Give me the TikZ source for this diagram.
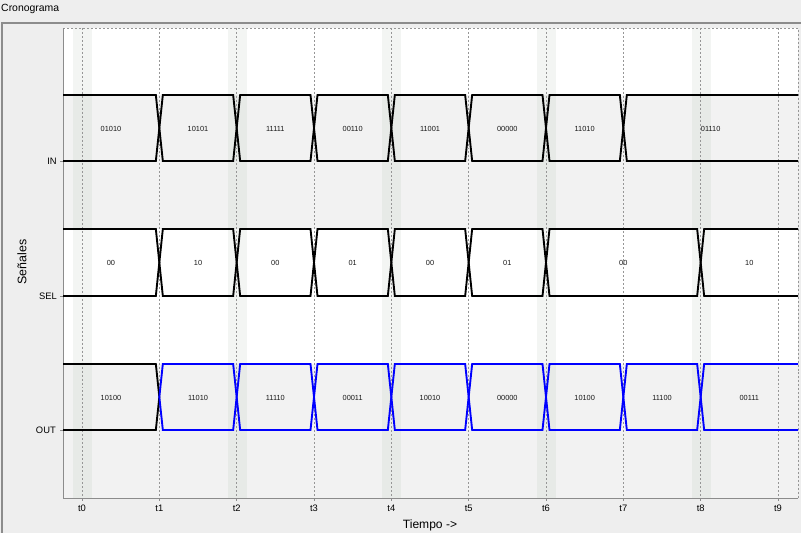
\documentclass[tikz,border=0pt]{standalone}
\usepackage{fontspec}
\setmainfont{Liberation Sans}
\usetikzlibrary{positioning}
\definecolor{PanelGray}{RGB}{238,238,238}
\definecolor{BandGray}{RGB}{242,242,242}
\definecolor{StripeTint}{RGB}{110,140,110}
\definecolor{GridGray}{RGB}{150,150,150}
\definecolor{FrameGray}{RGB}{140,140,140}
\definecolor{BusBlue}{RGB}{0,0,255}

\begin{document}
\begin{tikzpicture}[x=0.03cm,y=-0.03cm,
  declare function={tx(\i)=82+77.333*\i;},
  busline/.style={line width=1.6pt,line join=miter},
  gridline/.style={GridGray,line width=0.5pt,dash pattern=on 1.7pt off 1.7pt},
  val/.style={font=\fontsize{6.3}{7}\selectfont,text=black!90},
  signame/.style={font=\fontsize{8}{9}\selectfont,anchor=east,inner sep=0pt},
  ticklab/.style={font=\fontsize{8}{9}\selectfont,inner sep=0pt}]
\useasboundingbox (0,0) rectangle (801,533);
\fill[PanelGray] (0,0) rectangle (801,533);
\draw[FrameGray,line width=1pt] (2,533) -- (2,23) -- (801,23);
\node[anchor=west,inner sep=0pt,font=\fontsize{8.9}{10}\selectfont] (title) at (1,9) {Cronograma};
% bandas de fondo
\fill[white] (63,28) rectangle (798,95);
\fill[BandGray] (63,95) rectangle (798,229);
\fill[white] (63,229) rectangle (798,364);
\fill[BandGray] (63,364) rectangle (798,498);
\foreach \i in {0,2,4,6,8}
  \fill[StripeTint,fill opacity=0.08] ({tx(\i)-9},28) rectangle ({tx(\i)+10},498);
% rejilla y eje de tiempo
\foreach \i in {0,...,9} {
  \draw[gridline] ({tx(\i)},28) -- ({tx(\i)},498);
  \draw[FrameGray] ({tx(\i)},498) -- ({tx(\i)},501);
  \node[ticklab] (t\i) at ({tx(\i)},508.5) {t\i};
}
\draw[gridline] (63,28) -- (798,28) -- (798,498);
\draw[FrameGray] (63,28) -- (63,498) -- (798,498);
\node[font=\fontsize{10.3}{12}\selectfont,inner sep=0pt] (tiempo) at (430,525) {Tiempo ->};
\node[rotate=90,font=\fontsize{10.6}{12}\selectfont,inner sep=0pt] (senales) at (22,262) {Señales};
% nombres de las señales
\node[signame] (in) at (57,161) {IN};
\node[signame] (sel) at (57,296) {SEL};
\node[signame] (out) at (56,430) {OUT};
\foreach \y in {161,296,430}
  \draw[FrameGray] (60,\y) -- (63,\y);
% IN
\draw[busline] (63,95) -- ({tx(1)-3.5},95) -- ({tx(1)},128) -- ({tx(1)-3.5},161) -- (63,161);
\node[val] (in0) at (111,129) {01010};
\foreach \a/\b/\v in {1/2/10101,2/3/11111,3/4/00110,4/5/11001,5/6/00000,6/7/11010} {
  \draw[busline] ({tx(\a)+3.5},95) -- ({tx(\b)-3.5},95) -- ({tx(\b)},128) -- ({tx(\b)-3.5},161)
    -- ({tx(\a)+3.5},161) -- ({tx(\a)},128) -- cycle;
  \node[val] (in\a) at ({(tx(\a)+tx(\b))/2},129) {\v};
}
\draw[busline] (798,95) -- ({tx(7)+3.5},95) -- ({tx(7)},128) -- ({tx(7)+3.5},161) -- (798,161);
\node[val] (in7) at ({(tx(7)+798)/2},129) {01110};
% SEL
\draw[busline] (63,229) -- ({tx(1)-3.5},229) -- ({tx(1)},262.5) -- ({tx(1)-3.5},296) -- (63,296);
\node[val] (sel0) at (111,263) {00};
\foreach \a/\b/\v in {1/2/10,2/3/00,3/4/01,4/5/00,5/6/01,6/8/00} {
  \draw[busline] ({tx(\a)+3.5},229) -- ({tx(\b)-3.5},229) -- ({tx(\b)},262.5) -- ({tx(\b)-3.5},296)
    -- ({tx(\a)+3.5},296) -- ({tx(\a)},262.5) -- cycle;
  \node[val] (sel\a) at ({(tx(\a)+tx(\b))/2},263) {\v};
}
\draw[busline] (798,229) -- ({tx(8)+3.5},229) -- ({tx(8)},262.5) -- ({tx(8)+3.5},296) -- (798,296);
\node[val] (sel8) at ({(tx(8)+798)/2},263) {10};
% OUT
\draw[busline] (63,364) -- ({tx(1)-3.5},364) -- ({tx(1)},397) -- ({tx(1)-3.5},430) -- (63,430);
\node[val] (out0) at (111,397.5) {10100};
\foreach \a/\b/\v in {1/2/11010,2/3/11110,3/4/00011,4/5/10010,5/6/00000,6/7/10100,7/8/11100} {
  \draw[busline,BusBlue] ({tx(\a)+3.5},364) -- ({tx(\b)-3.5},364) -- ({tx(\b)},397) -- ({tx(\b)-3.5},430)
    -- ({tx(\a)+3.5},430) -- ({tx(\a)},397) -- cycle;
  \node[val] (out\a) at ({(tx(\a)+tx(\b))/2},397.5) {\v};
}
\draw[busline,BusBlue] (798,364) -- ({tx(8)+3.5},364) -- ({tx(8)},397) -- ({tx(8)+3.5},430) -- (798,430);
\node[val] (out8) at ({(tx(8)+798)/2},397.5) {00111};
\end{tikzpicture}
\end{document}
